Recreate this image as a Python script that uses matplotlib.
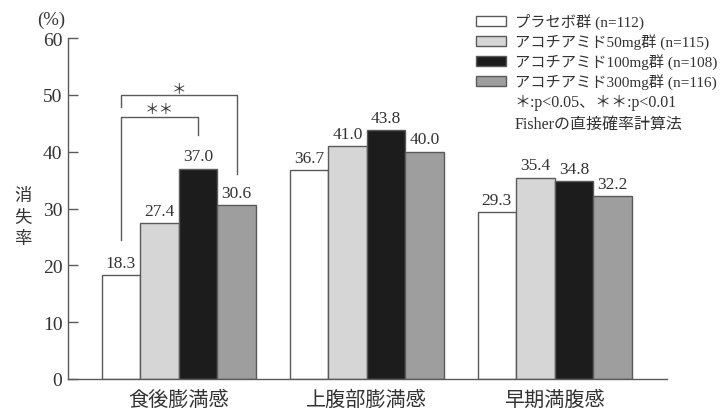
import matplotlib
matplotlib.use("Agg")
import matplotlib.pyplot as plt
from matplotlib.patches import Rectangle
import numpy as np

# Data
categories = ["食後膨満感", "上腹部膨満感", "早期満腹感"]
groups = ["プラセボ群 (n=112)", "アコチアミド50mg群 (n=115)",
          "アコチアミド100mg群 (n=108)", "アコチアミド300mg群 (n=116)"]
values = {
    "placebo": [18.3, 36.7, 29.3],
    "50mg":    [27.4, 41.0, 35.4],
    "100mg":   [37.0, 43.8, 34.8],
    "300mg":   [30.6, 40.0, 32.2],
}
yticks = [0, 10, 20, 30, 40, 50, 60]
notes = ["＊:p<0.05、＊＊:p<0.01", "Fisherの直接確率計算法"]

colors = ["#ffffff", "#d6d6d6", "#1c1c1c", "#9e9e9e"]
edge = "#5a5a5a"
txt = "#333333"
serif_jp = ["Liberation Serif", "Noto Sans CJK JP"]
sans_jp = ["Noto Sans CJK JP", "DejaVu Sans"]

W, H = 722, 414
fig = plt.figure(figsize=(W / 100, H / 100), dpi=100)
ax = fig.add_axes([68 / W, (H - 380) / H, (666.7 - 68) / W, (380 - 39) / H])

x = np.arange(len(categories))
bw = 0.205
series = list(values.values())
for i, vals in enumerate(series):
    pos = x + (i - 1.5) * bw
    ax.bar(pos, vals, width=bw, color=colors[i], edgecolor=edge, linewidth=1.0, zorder=2)
    for px, v in zip(pos, vals):
        ax.annotate(f"{v:.1f}", (px, v), xytext=(0, 6), textcoords="offset points",
                    ha="center", va="baseline", fontsize=12.5,
                    family="Liberation Serif", color=txt)

ax.set_xlim(-0.589, 2.596)
ax.set_ylim(0, 60)
ax.set_yticks(yticks)
ax.set_yticklabels([str(t) for t in yticks], family="Liberation Serif", fontsize=14, color=txt)
ax.tick_params(axis="y", direction="in", length=7, width=1.0, color=edge, pad=4)
ax.set_xticks(x)
ax.set_xticklabels(categories, family=sans_jp, fontsize=14.5, color=txt)
ax.tick_params(axis="x", length=0, pad=7)
for s in ["top", "right"]:
    ax.spines[s].set_visible(False)
for s in ["left", "bottom"]:
    ax.spines[s].set_color(edge)
    ax.spines[s].set_linewidth(1.0)

# significance brackets (group 0: placebo vs 100mg, placebo vs 300mg)
c0, c2, c3 = -1.5 * bw, 0.5 * bw, 1.5 * bw
lw = 1.0
ax.plot([c0, c0, c3, c3], [47.8, 50.0, 50.0, 36.0], color=edge, lw=lw, clip_on=False)
ax.plot([c0, c0, c2, c2], [24.5, 46.1, 46.1, 42.9], color=edge, lw=lw, clip_on=False)
ax.text((c0 + c3) / 2, 51.0, "＊", ha="center", va="center", fontsize=10.5,
        family=sans_jp, color=txt)
ax.text((c0 + c2) / 2, 47.5, "＊＊", ha="center", va="center", fontsize=10.5,
        family=sans_jp, color=txt)

# axis annotations
fig.text(51 / W, 1 - 20 / H, "(%)", ha="center", va="center", fontsize=13.5,
         family="Liberation Serif", color=txt)
fig.text(23 / W, 1 - 218 / H, "消\n失\n率", ha="center", va="center", fontsize=12.5,
         family=sans_jp, color=txt, linespacing=1.25)

# legend
row_y = [22, 42, 62, 82]
for yy, lab, col in zip(row_y, groups, colors):
    fig.add_artist(Rectangle((476 / W, 1 - (yy + 5) / H), 30 / W, 10 / H,
                             transform=fig.transFigure, facecolor=col,
                             edgecolor=edge, linewidth=1.0))
    fig.text(515 / W, 1 - yy / H, lab, ha="left", va="center", fontsize=11,
             family=serif_jp, color=txt)
for yy, t in zip([103, 125], notes):
    fig.text(515 / W, 1 - yy / H, t, ha="left", va="center", fontsize=11.5,
             family=serif_jp, color=txt)

fig.savefig("out.png", dpi=100)
